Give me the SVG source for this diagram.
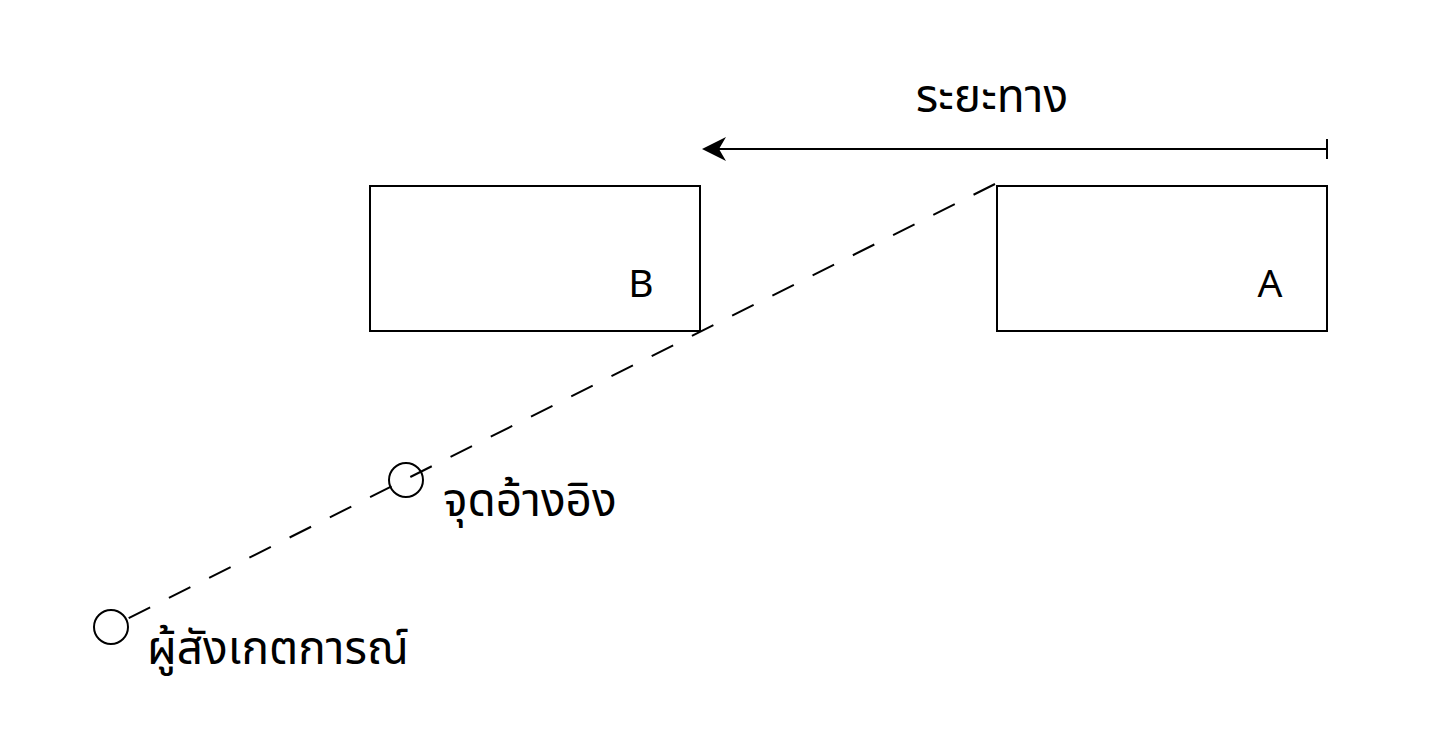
<svg xmlns="http://www.w3.org/2000/svg" width="1440" height="739" viewBox="0 0 1440 739">
<style>
.box{fill:#fff;stroke:#000;stroke-width:2}
.lbl{font-family:"Noto Sans Thai","Noto Sans","DejaVu Sans",sans-serif;font-size:39px;fill:#000}
.th{font-size:46px}
.pt{fill:none;stroke:#000;stroke-width:2}
</style>
<defs>
<marker id="ah" markerWidth="24" markerHeight="26" refX="22" refY="13" orient="auto" markerUnits="userSpaceOnUse">
<path d="M0,1 L24,13 L0,25 L7,13 Z" fill="#000"/>
</marker>
</defs>
<rect width="1440" height="739" fill="#fff"/>
<g id="node-B"><rect class="box" x="370" y="186" width="330" height="145"/><text class="lbl" x="641" y="297" text-anchor="middle">B</text></g>
<g id="node-A"><rect class="box" x="997" y="186" width="330" height="145"/><text class="lbl" x="1270" y="297" text-anchor="middle">A</text></g>
<g id="connectors">
<line x1="1327" y1="149" x2="704" y2="149" stroke="#000" stroke-width="2" marker-end="url(#ah)"/>
<line x1="1327" y1="139" x2="1327" y2="159" stroke="#000" stroke-width="2"/>
<line x1="995" y1="184" x2="111" y2="627" stroke="#000" stroke-width="2" stroke-dasharray="24 21"/>
</g>
<g id="node-ref"><circle class="pt" cx="406" cy="480" r="17"/><text class="lbl th" x="443" y="516">จุดอ้างอิง</text></g>
<g id="node-observer"><circle class="pt" cx="111" cy="627" r="17"/><text class="lbl th" x="147" y="664">ผู้สังเกตการณ์</text></g>
<g id="label-distance"><text class="lbl th" x="992" y="112" text-anchor="middle">ระยะทาง</text></g>
</svg>
